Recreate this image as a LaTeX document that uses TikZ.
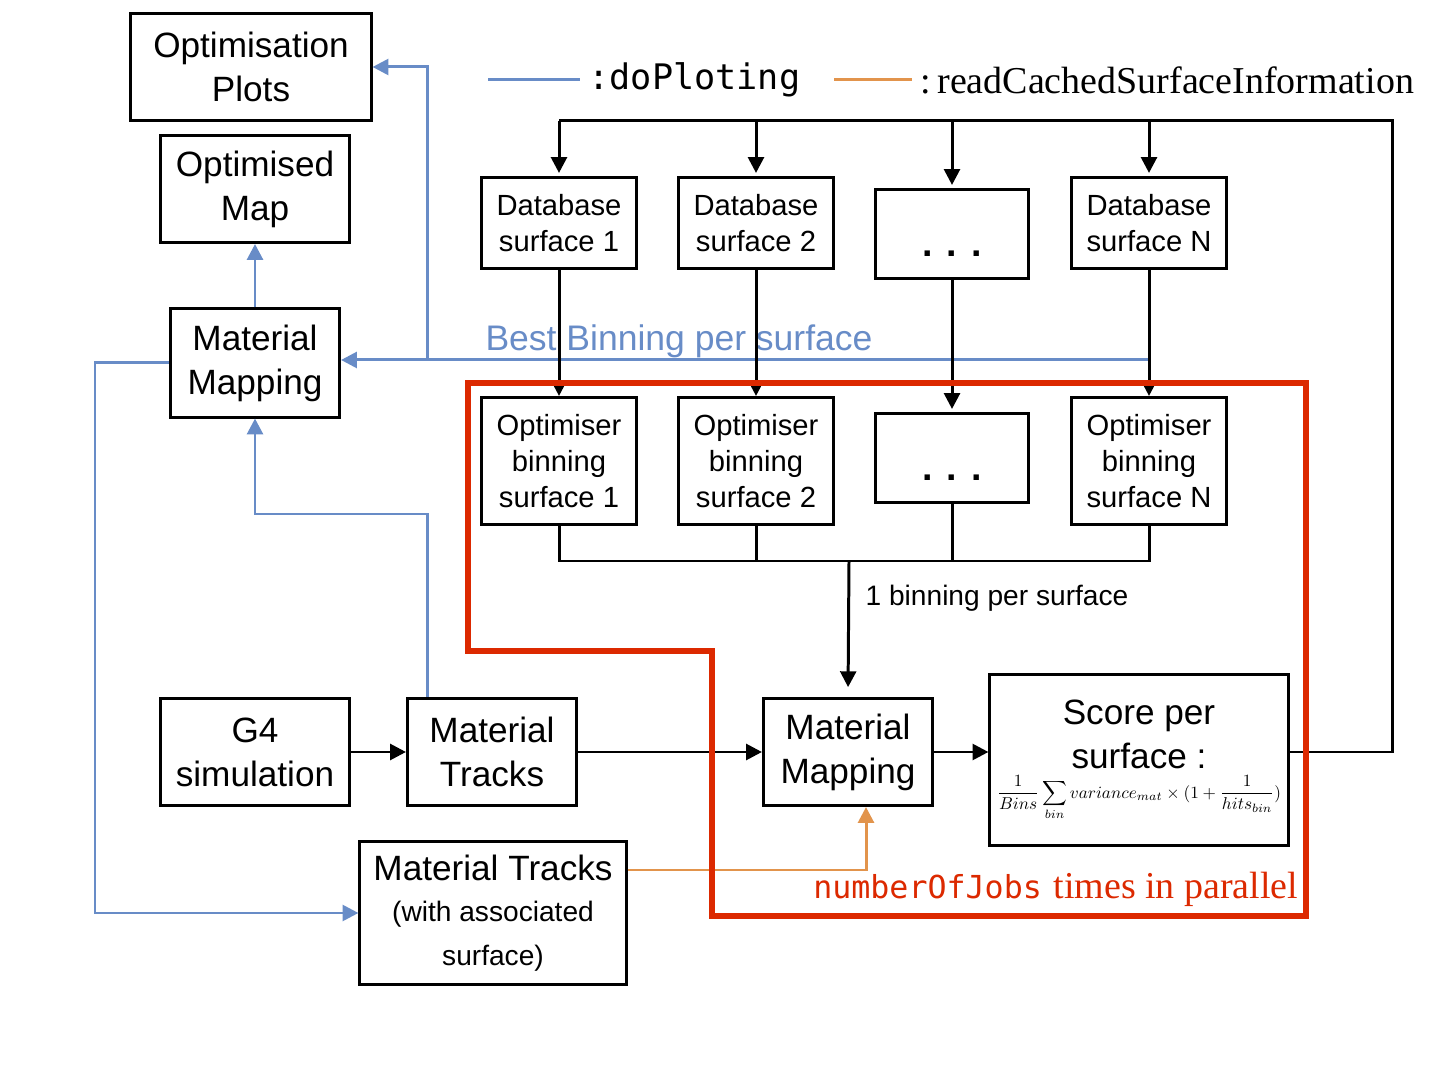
\documentclass[tikz,border=0pt]{standalone}
\usepackage{amsmath}
\usepackage{graphicx}
\usepackage{fontspec}
\setsansfont{Liberation Sans}
\newfontfamily\legmono{DejaVu Sans Mono}
\newfontfamily\legserif{Liberation Serif}
\usetikzlibrary{arrows.meta}

\definecolor{plotblue}{RGB}{104,140,199}
\definecolor{cacheorange}{RGB}{226,148,76}
\definecolor{jobred}{RGB}{220,41,0}

\tikzset{
    box/.style={draw, line width=0.85pt, align=center, inner sep=0pt,
        font=\sffamily\fontsize{10}{12.5}\selectfont},
    surfbox/.style={box, font=\sffamily\fontsize{8.3}{10.2}\selectfont,
        minimum width=1.55cm},
    dotsbox/.style={box, minimum width=1.53cm, minimum height=0.88cm,
        label={[font=\sffamily\bfseries\fontsize{10.7}{12}\selectfont, yshift=-5.5pt]center:. . .}},
    wire/.style={line width=0.85pt},
    flow/.style={wire, -{Triangle[length=4.5pt,width=4.5pt]}},
    plotflow/.style={flow, draw=plotblue},
    cacheflow/.style={flow, draw=cacheorange},
}

\begin{document}
\begin{tikzpicture}[x=0.01cm, y=-0.01cm]
    \useasboundingbox (0,0) rectangle (1440,1080);

    % left column
    \node[box, minimum width=2.40cm, minimum height=1.07cm] (optplots) at (251,67) {Optimisation\\Plots};
    \node[box, minimum width=1.89cm, minimum height=1.07cm] (optmap) at (255,189) {Optimised\\Map};
    \node[box, minimum width=1.69cm, minimum height=1.08cm] (mapleft) at (255,363) {Material\\Mapping};
    \node[box, minimum width=1.89cm, minimum height=1.07cm] (g4) at (255,752) {G4\\simulation};
    \node[box, minimum width=1.69cm, minimum height=1.07cm] (tracks) at (492,752) {Material\\Tracks};
    \node[box, minimum width=2.66cm, minimum height=1.42cm] (trackssurf) at (493,913)
        {Material Tracks\\[-1pt]\fontsize{8}{12}\selectfont(with associated\\\fontsize{8}{12}\selectfont surface)};

    % surfaces
    \node[surfbox, minimum height=0.90cm] (db1) at (559,223) {Database\\surface 1};
    \node[surfbox, minimum height=0.90cm] (db2) at (756,223) {Database\\surface 2};
    \node[dotsbox] (dbdots) at (952,234) {};
    \node[surfbox, minimum height=0.90cm] (dbN) at (1149,223) {Database\\surface N};

    \node[surfbox, minimum height=1.27cm] (opt1) at (559,461) {Optimiser\\binning\\surface 1};
    \node[surfbox, minimum height=1.27cm] (opt2) at (756,461) {Optimiser\\binning\\surface 2};
    \node[dotsbox] (optdots) at (952,458) {};
    \node[surfbox, minimum height=1.27cm] (optN) at (1149,461) {Optimiser\\binning\\surface N};

    \node[box, minimum width=1.69cm, minimum height=1.07cm] (mapmid) at (848,752) {Material\\Mapping};
    \node[box, minimum width=2.98cm, minimum height=1.70cm] (score) at (1139,760)
        {Score per\\surface :\\[-4pt]\resizebox{2.84cm}{!}{$\displaystyle\frac{1}{Bins}\sum_{bin} variance_{mat}\times(1+\frac{1}{hits_{bin}})$}};

    \coordinate (busR) at (1392,121);
    \coordinate (binbus) at (849,561);
    \coordinate (plotjoin) at (427,514);
    \coordinate (bestR) at (1149,360);
    \coordinate (plotsplit) at (427,360);
    \coordinate (leftrail) at (95,913);
    \coordinate (cachejoin) at (866,870);

    % doPloting
    \draw[plotflow] (tracks.north -| plotjoin) -- (plotjoin) -| (mapleft.south);
    \draw[plotflow] (bestR) -- (bestR -| mapleft.east);
    \draw[plotflow] (plotsplit) |- (optplots.east);
    \draw[plotflow] (mapleft) -- (optmap);
    \draw[plotflow] (mapleft.west) -| (leftrail) -- (trackssurf.west);
    \node[text=plotblue, font=\sffamily\fontsize{10.1}{12}\selectfont] (bestlabel) at (679,341) {Best Binning per surface};

    % readCachedSurfaceInformation
    \draw[cacheflow] (trackssurf.east |- cachejoin) -- (cachejoin) -- (cachejoin |- mapmid.south);

    % loop over surfaces
    \draw[wire] (score.east |- mapmid) -| (busR) -- (db1.north |- busR);
    \foreach \s in {db1, db2, dbdots, dbN}
        \draw[flow, shorten >=1pt] (\s.north |- busR) -- (\s.north);
    \draw[flow] (db1) -- (opt1);
    \draw[flow] (db2) -- (opt2);
    \draw[flow, shorten >=1pt] (dbdots) -- (optdots);
    \draw[flow] (dbN) -- (optN);
    \draw[wire] (opt1.south) |- (optN.south |- binbus) -- (optN.south);
    \draw[wire] (opt2.south) -- (opt2.south |- binbus);
    \draw[wire] (optdots.south) -- (optdots.south |- binbus);
    \draw[flow, shorten >=2.8pt] (binbus) -- (mapmid.north);
    \node[font=\sffamily\fontsize{8}{10}\selectfont] (binlabel) at (997,598) {1 binning per surface};

    \draw[flow] (g4) -- (tracks);
    \draw[flow] (tracks) -- (mapmid);
    \draw[flow] (mapmid.east) -- (mapmid.east -| score.west);

    % parallel jobs
    \draw[jobred, line width=1.7pt] (468,383) -- (1306,383) -- (1306,916) -- (712,916) -- (712,651) -- (468,651) -- cycle;
    \node[anchor=east, text=jobred, inner sep=0pt] (jobslabel) at (1299,889)
        {{\legmono\fontsize{9}{11}\selectfont numberOfJobs} {\legserif\fontsize{10.8}{12}\selectfont times in parallel}};

    % legend
    \draw[wire, plotblue] (488,80) -- (580,80) node[right, text=black, inner sep=2pt, font=\legmono\fontsize{10}{12}\selectfont] (legplot) {:doPloting};
    \draw[wire, cacheorange] (834,80) -- (912,80) node[right, text=black, inner sep=2pt, font=\legserif\fontsize{10.8}{12}\selectfont] (legcache) {:\,readCachedSurfaceInformation};
\end{tikzpicture}
\end{document}
